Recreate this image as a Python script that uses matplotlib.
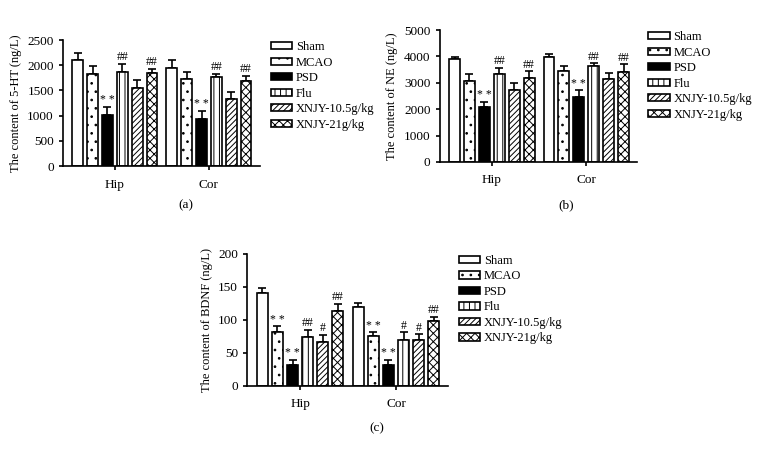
import numpy as np
import matplotlib
matplotlib.use("Agg")
import matplotlib.pyplot as plt

plt.rcParams['font.family'] = ['Liberation Serif', 'DejaVu Serif']
plt.rcParams['hatch.linewidth'] = 0.7

# groups and legend names
groups = ['Hip', 'Cor']
names = ['Sham', 'MCAO', 'PSD', 'Flu', 'XNJY-10.5g/kg', 'XNJY-21g/kg']

# 5-HT (a)
ht_mean = [[2100, 1830, 1020, 1870, 1540, 1850],
           [1950, 1720, 940, 1760, 1330, 1680]]
ht_err = [[150, 160, 150, 160, 160, 80],
          [160, 140, 160, 70, 130, 110]]
ht_sig = [['', '', '* *', '##', '', '##'],
          ['', '', '* *', '##', '', '##']]

# NE (b)
ne_mean = [[3900, 3080, 2070, 3340, 2720, 3190],
           [3960, 3450, 2460, 3620, 3150, 3420]]
ne_err = [[80, 250, 200, 230, 280, 250],
          [150, 170, 250, 120, 220, 280]]
ne_sig = [['', '', '* *', '##', '', '##'],
          ['', '', '* *', '##', '', '##']]

# BDNF (c)
bd_mean = [[140, 81, 32, 74, 66, 113],
           [119, 75, 31, 70, 69, 98]]
bd_err = [[8, 9, 7, 11, 11, 11],
          [7, 6, 8, 11, 9, 7]]
bd_sig = [['', '* *', '* *', '##', '#', '##'],
          ['', '* *', '* *', '#', '#', '##']]

colors = ['white', 'white', 'black', 'white', 'white', 'white']
hatches = [None, '..', None, '|||', '//////', 'xxxx']


def panel(pos, mean, err, sig, ymax, ystep, ylabel, letter, letter_xy):
    ax = fig.add_axes(pos)
    mean = np.array(mean)
    err = np.array(err)
    w = 0.114
    step = 0.158
    for i in range(6):
        x = np.arange(2) + (i - 2.5) * step
        ax.bar(x, mean[:, i], w, color=colors[i], edgecolor='black',
               hatch=hatches[i], linewidth=1.2, label=names[i], zorder=2)
        ax.errorbar(x, mean[:, i], yerr=[np.zeros(2), err[:, i]], fmt='none',
                    ecolor='black', elinewidth=1.2, capsize=3, capthick=1.2, zorder=1)
        for g in range(2):
            if sig[g][i]:
                ax.text(x[g], mean[g, i] + err[g, i] + ymax * 0.005, sig[g][i],
                        ha='center', va='bottom', fontsize=8.5)
    ax.set_xlim(-0.553, 1.543)
    ax.set_ylim(0, ymax)
    ax.set_yticks(np.arange(0, ymax + 1, ystep))
    ax.set_xticks([0, 1])
    ax.set_xticklabels(groups)
    ax.spines['top'].set_visible(False)
    ax.spines['right'].set_visible(False)
    ax.spines['left'].set_linewidth(1.2)
    ax.spines['bottom'].set_linewidth(1.2)
    ax.tick_params(labelsize=9.5, width=1.2, length=3)
    ax.tick_params(axis='x', pad=6)
    ax.set_ylabel(ylabel, fontsize=9, labelpad=4)
    ax.legend(loc='upper left', bbox_to_anchor=(1.03, 1.03), frameon=False,
              fontsize=9, handlelength=1.7, handleheight=0.5,
              labelspacing=0.28, handletextpad=0.3, borderaxespad=0)
    fig.text(letter_xy[0], letter_xy[1], letter, ha='center', va='center', fontsize=9.5)
    return ax


fig = plt.figure(figsize=(7.58, 4.55), dpi=100)

panel([0.083, 0.635, 0.26, 0.277], ht_mean, ht_err, ht_sig, 2500, 500,
      'The content of 5-HT (ng/L)', '(a)', (186 / 758, 1 - 205 / 455))
panel([0.580, 0.644, 0.261, 0.29], ne_mean, ne_err, ne_sig, 5000, 1000,
      'The content of NE (ng/L)', '(b)', (566 / 758, 1 - 205 / 455))
panel([0.326, 0.152, 0.265, 0.29], bd_mean, bd_err, bd_sig, 200, 50,
      'The content of BDNF (ng/L)', '(c)', (377 / 758, 1 - 428 / 455))

fig.savefig('out.png', dpi=100)
